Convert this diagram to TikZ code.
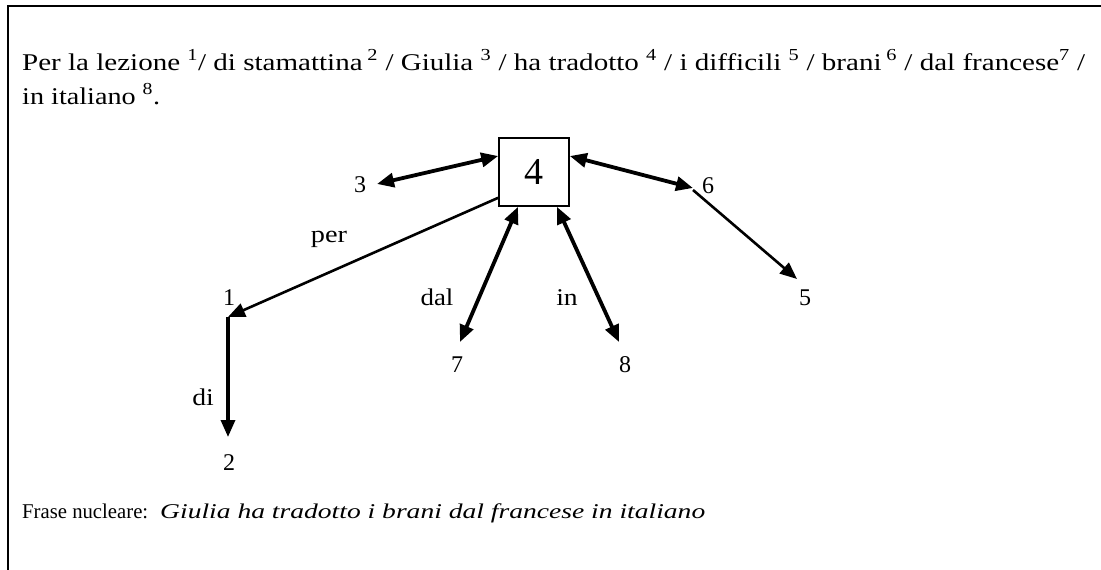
\documentclass[tikz,border=0pt]{standalone}
\usepackage{fontspec}
\setmainfont{Liberation Serif}
\usetikzlibrary{arrows.meta,calc}
\begin{document}
\begin{tikzpicture}[x=1pt,y=-1pt,
  txt/.style={font=\fontsize{24}{28}\selectfont, inner sep=0pt, anchor=base west},
  btxt/.style={font=\fontsize{21}{25}\selectfont, inner sep=0pt, anchor=base west},
  num/.style={font=\fontsize{24}{28}\selectfont, inner sep=0pt, anchor=base},
  lab/.style={font=\fontsize{24}{28}\selectfont, inner sep=0pt, anchor=base},
  dblarrow/.style={line width=3.8pt, {Triangle[length=17pt,width=14pt]}-{Triangle[length=17pt,width=14pt]}},
  thinarrow/.style={line width=2.6pt, -{Triangle[length=17pt,width=14pt]}},
  vertarrow/.style={line width=3.3pt, -{Triangle[length=17pt,width=14pt]}},
  verbox/.style={draw, line width=1.6pt, minimum width=70pt, minimum height=68pt, inner sep=0pt, font=\fontsize{38}{42}\selectfont},
  frame/.style={line width=2pt}]
\useasboundingbox (0,0) rectangle (1101,570);
% frame
\coordinate (fbl) at (8,570);
\coordinate (ftl) at (8,6);
\coordinate (ftr) at (1101,6);
\draw[frame] (fbl) -- (ftl) -- (ftr);
% text
\node[txt] (l1) at (22,70) {\resizebox{1063pt}{\height}{Per la lezione \textsuperscript{1}/ di stamattina\,\textsuperscript{2} / Giulia \textsuperscript{3} / ha tradotto \textsuperscript{4} / i difficili \textsuperscript{5} / brani\,\textsuperscript{6} / dal francese\textsuperscript{7} /}};
\node[txt] (l2) at (22,104) {\resizebox{138pt}{\height}{in italiano \textsuperscript{8}.}};
\node[btxt] (fn) at (22,518) {\resizebox{126pt}{\height}{Frase nucleare:}};
\node[btxt] (fi) at (160,518) {\resizebox{545pt}{\height}{\textit{Giulia ha tradotto i brani dal francese in italiano}}};
% nodes
\node[verbox] (b) at (534,172) {4};
\node[num] (n3) at (360,192) {3};
\node[num] (n6) at (708,193) {6};
\node[num] (n5) at (805,305) {5};
\node[num] (n1) at (229,305) {1};
\node[num] (n2) at (229,470) {2};
\node[num] (n7) at (457,372) {7};
\node[num] (n8) at (625,372) {8};
% labels
\node[lab] (lper) at (329,242) {\scalebox{1.18}[1]{per}};
\node[lab] (ldal) at (437,305) {\scalebox{1.12}[1]{dal}};
\node[lab] (lin) at (567,305) {\scalebox{1.15}[1]{in}};
\node[lab] (ldi) at (203,405) {\scalebox{1.15}[1]{di}};
% connectors
\draw[dblarrow] ($(n3.base)+(17,-8)$) -- ($(b.west)+(0,-16)$);
\draw[dblarrow] ($(b.east)+(0,-16)$) -- ($(n6.base)+(-15,-5)$);
\draw[thinarrow] ($(n6.base)+(-15,-3)$) -- ($(n5.base)+(-8,-26)$);
\coordinate (c1) at ($(n1.base)+(-1,12)$);
\draw[thinarrow] ($(b.south west)+(0,-9)$) -- (c1);
\draw[vertarrow] (c1) -- ($(n2.base)+(-1,-33)$);
\draw[dblarrow] ($(b.south)+(-16,0)$) -- ($(n7.base)+(3,-30)$);
\draw[dblarrow] ($(b.south)+(23,0)$) -- ($(n8.base)+(-6,-30)$);
\end{tikzpicture}
\end{document}
